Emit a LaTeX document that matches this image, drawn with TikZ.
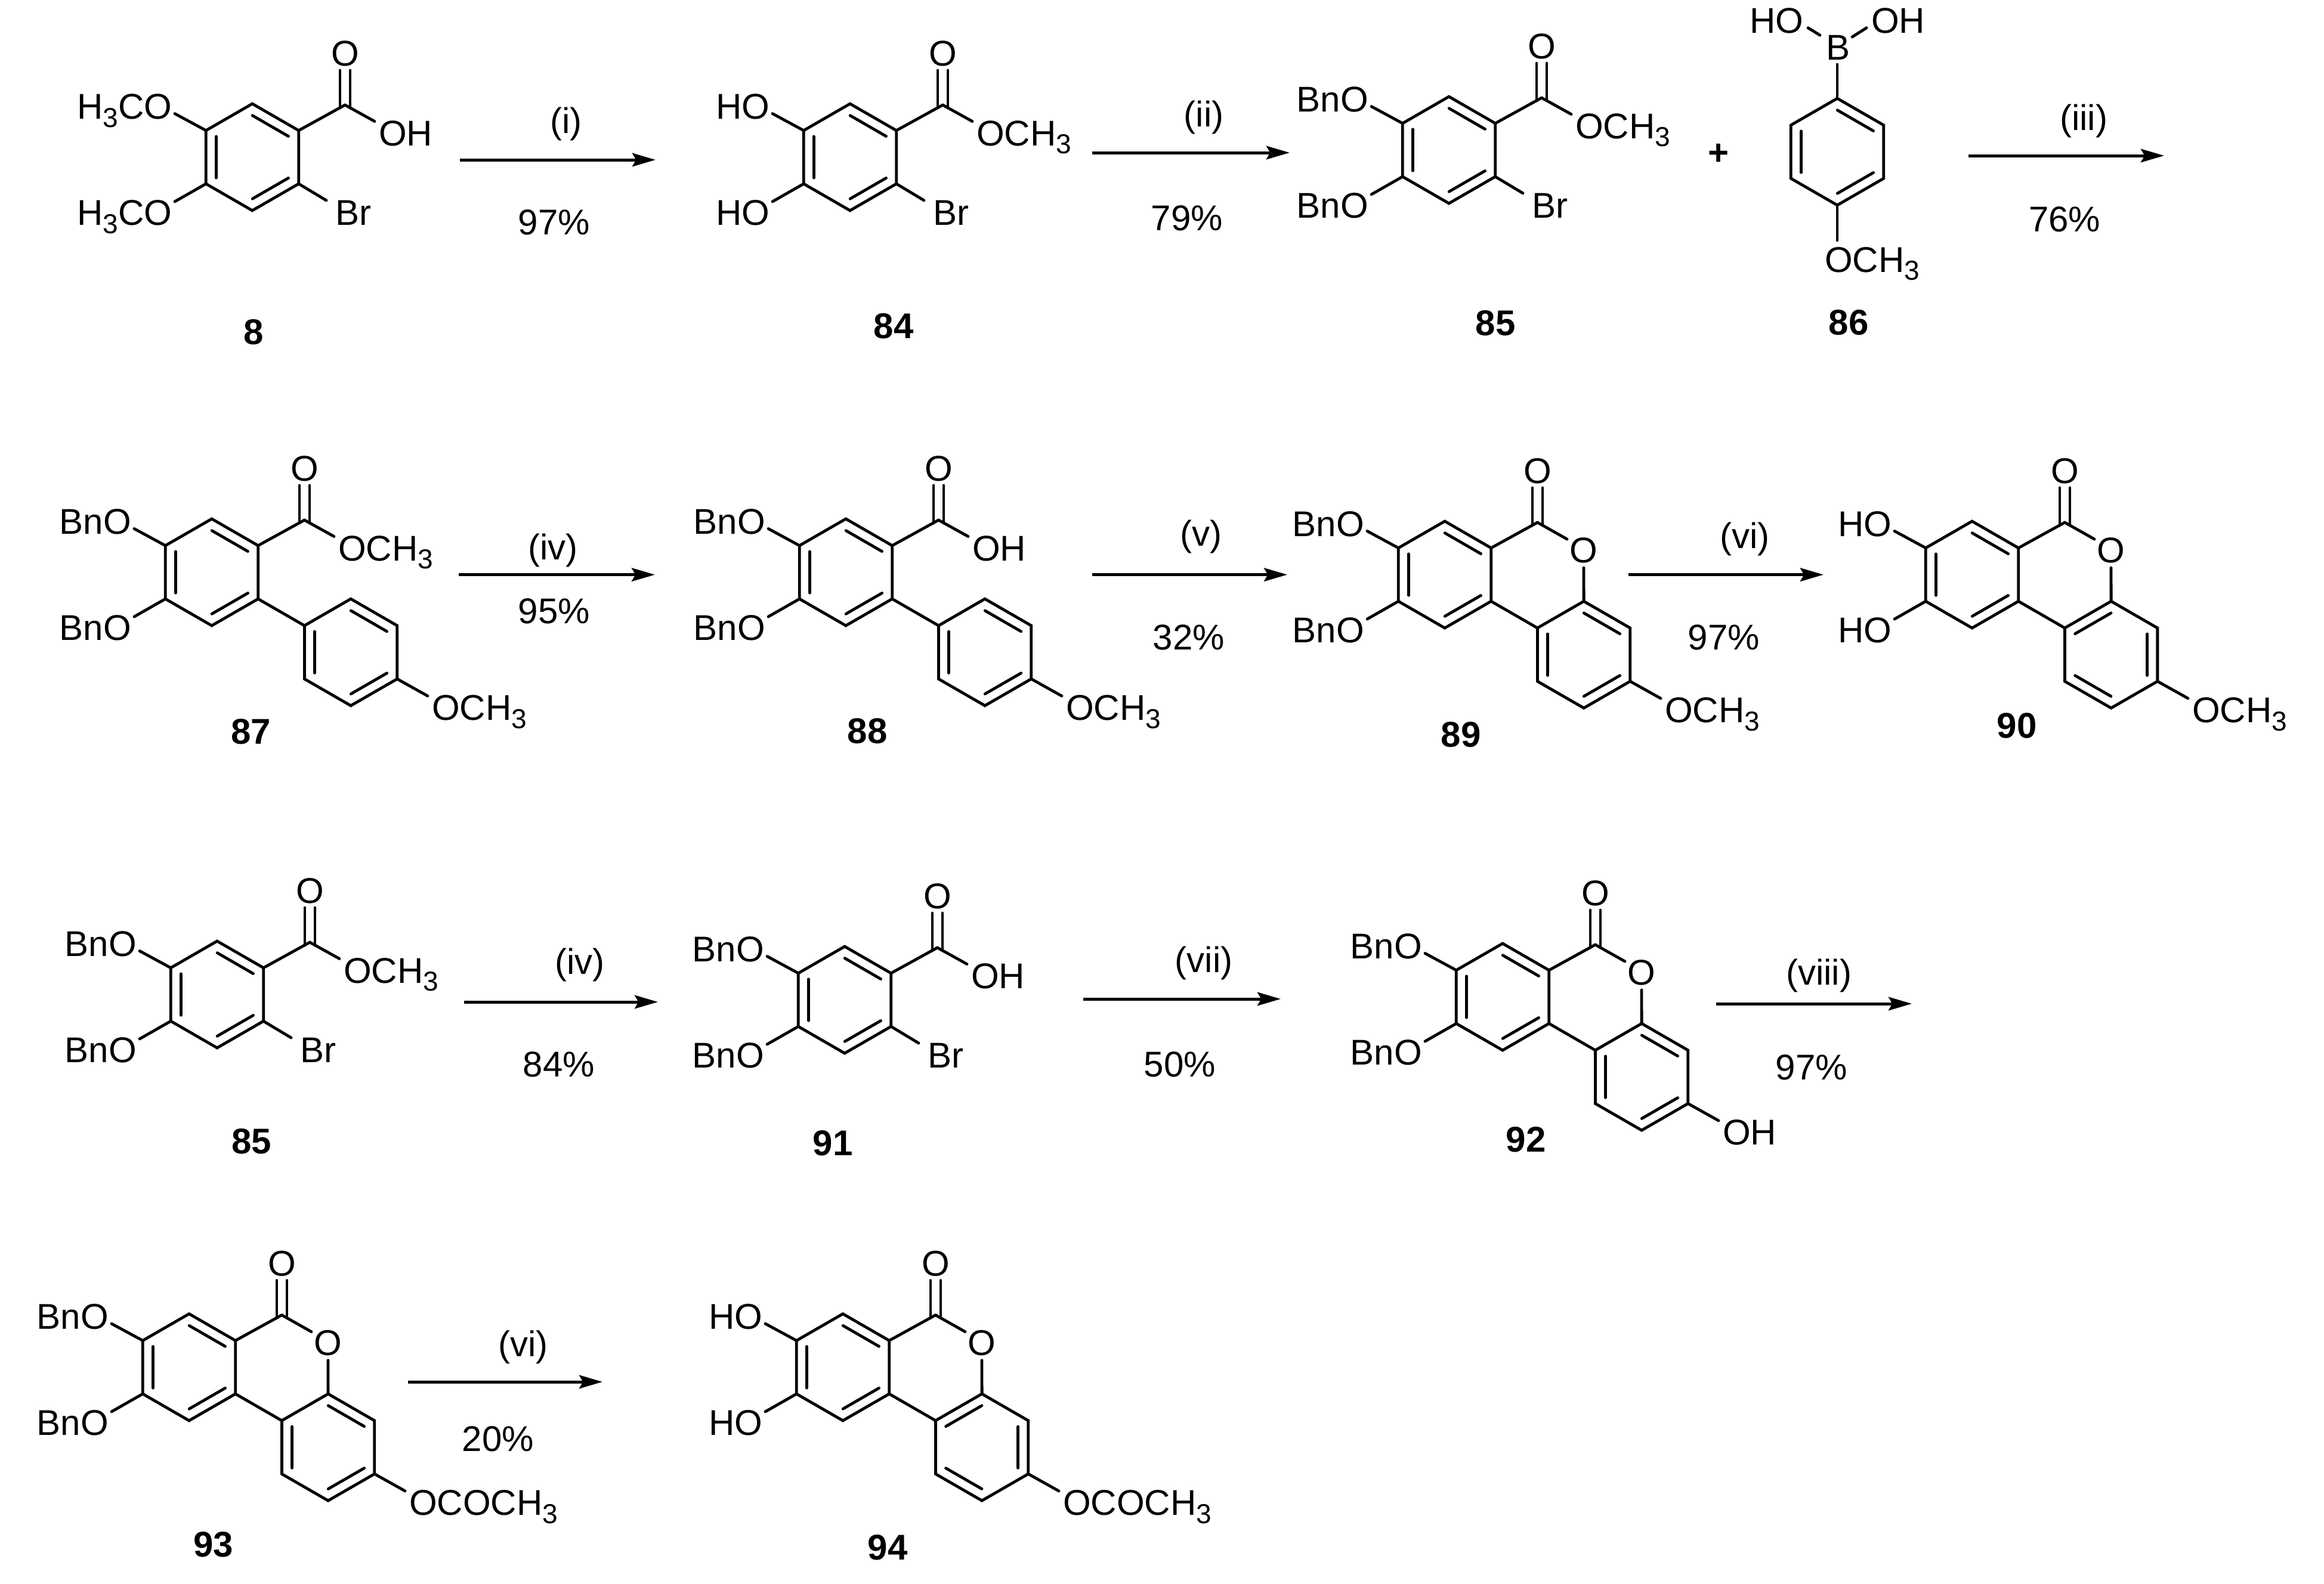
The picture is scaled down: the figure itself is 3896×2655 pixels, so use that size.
\documentclass[tikz,border=0pt]{standalone}
\usepackage{fontspec}
\setmainfont{Liberation Sans}
\usetikzlibrary{arrows.meta}
\newcommand{\subthree}{\raisebox{-3.4pt}{\fontsize{11.5}{11.5}\selectfont 3}}
\newcommand{\OCHthree}{OCH\subthree}
\newcommand{\OAc}{OCOCH\subthree}
\tikzset{
  bond/.style={line width=1.2pt,line join=miter,line cap=round},
  atom/.style={inner sep=0pt,outer sep=0pt,font=\fontsize{15}{15}\selectfont},
  cmpd/.style={inner sep=0pt,outer sep=0pt,anchor=base,font=\fontsize{15}{15}\selectfont\bfseries},
  rtext/.style={inner sep=0pt,outer sep=0pt,anchor=base,font=\fontsize{15}{15}\selectfont},
  rxn/.style={line width=1.25pt,-{Stealth[length=9.75pt,width=5.6pt,inset=1.6pt]}}
}
% hexagon, T = top vertex, with inner lines of pattern A or B
\newcommand{\hexcoords}[3]{%
  \begin{scope}[shift={(#2,#3)}]
  \coordinate (#1T) at (0,0);
  \coordinate (#1UR) at (77.7,44.8);
  \coordinate (#1LR) at (77.7,134.2);
  \coordinate (#1B) at (0,179);
  \coordinate (#1LL) at (-77.7,134.2);
  \coordinate (#1UL) at (-77.7,44.8);
  \draw[bond] (#1T) -- (#1UR) -- (#1LR) -- (#1B) -- (#1LL) -- (#1UL) -- cycle;
  \end{scope}}
\newcommand{\hexA}[3]{\hexcoords{#1}{#2}{#3}%
  \begin{scope}[shift={(#2,#3)}]
  \draw[bond] (-60.7,54.8) -- (-60.7,124.2);
  \draw[bond] (0.2,19.7) -- (60.5,54.5);
  \draw[bond] (60.5,124.5) -- (0.2,159.3);
  \end{scope}}
\newcommand{\hexB}[3]{\hexcoords{#1}{#2}{#3}%
  \begin{scope}[shift={(#2,#3)}]
  \draw[bond] (60.7,54.8) -- (60.7,124.2);
  \draw[bond] (-0.2,19.7) -- (-60.5,54.5);
  \draw[bond] (-60.5,124.5) -- (-0.2,159.3);
  \end{scope}}
% two oxygen substituents on the left of ring at T=(#2,#3)
\newcommand{\leftpair}[5]{%
  \begin{scope}[shift={(#2,#3)}]
  \node[atom,anchor=base east] (#1up) at (-135,25.7) {#4};
  \node[atom,anchor=base east] (#1lo) at (-135,203.6) {#5};
  \coordinate (#1upe) at (-130,16.5);
  \coordinate (#1loe) at (-130,164);
  \draw[bond] (#1UL) -- (#1upe);
  \draw[bond] (#1LL) -- (#1loe);
  \end{scope}}
% C=O above the ring
\newcommand{\carbonyl}[3]{%
  \begin{scope}[shift={(#2,#3)}]
  \coordinate (#1C) at (155.4,2);
  \node[atom,anchor=base] (#1O) at (155.4,-64) {O};
  \coordinate (#1Ol) at (147,-56);
  \coordinate (#1Or) at (164,-56);
  \coordinate (#1Cl) at (147,7);
  \coordinate (#1Cr) at (164,7);
  \draw[bond] (#1UR) -- (#1C);
  \draw[bond] (#1Ol) -- (#1Cl);
  \draw[bond] (#1Or) -- (#1Cr);
  \end{scope}}
\newcommand{\acidester}[4]{%
  \carbonyl{#1}{#2}{#3}%
  \begin{scope}[shift={(#2,#3)}]
  \node[atom,anchor=base west] (#1R) at (212,70) {#4};
  \coordinate (#1Re) at (205,29.5);
  \draw[bond] (#1C) -- (#1Re);
  \end{scope}}
\newcommand{\bromo}[3]{%
  \begin{scope}[shift={(#2,#3)}]
  \node[atom,anchor=base west] (#1Br) at (139,203.5) {Br};
  \coordinate (#1Bre) at (124,162);
  \draw[bond] (#1LR) -- (#1Bre);
  \end{scope}}
% second aryl ring (#4 = \hexA or \hexB) with a terminal group #5
\newcommand{\aryl}[5]{%
  #4{#12}{#2+233.1}{#3+134.2}%
  \begin{scope}[shift={(#2,#3)}]
  \node[atom,anchor=base west] (#1X) at (369,337.5) {#5};
  \coordinate (#1Xe) at (362,297);
  \draw[bond] (#1LR) -- (#12UL);
  \draw[bond] (#12LR) -- (#1Xe);
  \end{scope}}
\newcommand{\lactone}[3]{%
  \carbonyl{#1}{#2}{#3}%
  \begin{scope}[shift={(#2,#3)}]
  \node[atom,anchor=base] (#1Rg) at (233,69) {O};
  \coordinate (#1Rgs) at (205,30);
  \coordinate (#1Rgb) at (233,78);
  \draw[bond] (#1C) -- (#1Rgs);
  \draw[bond] (#1Rgb) -- (#12T);
  \end{scope}}
% reaction arrow: name, x1, x2, y
\newcommand{\rxnarrow}[4]{%
  \coordinate (#1s) at (#2,#4);
  \coordinate (#1e) at (#3,#4);
  \draw[rxn] (#1s) -- (#1e);}
\begin{document}
\begin{tikzpicture}[x=0.25pt,y=-0.25pt]
\useasboundingbox (0,0) rectangle (3896,2655);
% ---- 8
\hexA{a}{423}{174}
\leftpair{a}{423}{174}{H\subthree CO}{H\subthree CO}
\acidester{a}{423}{174}{OH}
\bromo{a}{423}{174}
\node[cmpd] (c8) at (425,577) {8};
% ---- 84
\hexA{b}{1425}{174}
\leftpair{b}{1425}{174}{HO}{HO}
\acidester{b}{1425}{174}{\OCHthree}
\bromo{b}{1425}{174}
\node[cmpd] (c84) at (1498,567) {84};
% ---- 85
\hexA{c}{2429}{162}
\leftpair{c}{2429}{162}{BnO}{BnO}
\acidester{c}{2429}{162}{\OCHthree}
\bromo{c}{2429}{162}
\node[cmpd] (c85) at (2507,562) {85};
\node[atom,font=\fontsize{15}{15}\selectfont\bfseries] (plus) at (2881,259) {+};
% ---- 86
\hexA{d}{3080}{165}
\node[atom,anchor=base] (dBo) at (3081,100) {B};
\node[atom,anchor=base east] (dHO) at (3023,55.5) {HO};
\node[atom,anchor=base west] (dOH) at (3137,55.5) {OH};
\node[atom,anchor=base west] (dM) at (3059,456) {\OCHthree};
\coordinate (dBb) at (3080,108);
\coordinate (dBl) at (3051,59);
\coordinate (dBr) at (3105,62);
\coordinate (dHe) at (3031,46.7);
\coordinate (dOe) at (3129,46.7);
\coordinate (dMe) at (3080,403);
\draw[bond] (dT) -- (dBb);
\draw[bond] (dBl) -- (dHe);
\draw[bond] (dBr) -- (dOe);
\draw[bond] (dB) -- (dMe);
\node[cmpd] (c86) at (3099,561) {86};
% ---- 87
\hexA{e}{355}{870}
\leftpair{e}{355}{870}{BnO}{BnO}
\acidester{e}{355}{870}{\OCHthree}
\aryl{e}{355}{870}{\hexA}{\OCHthree}
\node[cmpd] (c87) at (421,1247) {87};
% ---- 88
\hexA{f}{1418}{870}
\leftpair{f}{1418}{870}{BnO}{BnO}
\acidester{f}{1418}{870}{OH}
\aryl{f}{1418}{870}{\hexA}{\OCHthree}
\node[cmpd] (c88) at (1454,1246) {88};
% ---- 89
\hexA{g}{2422}{874}
\leftpair{g}{2422}{874}{BnO}{BnO}
\aryl{g}{2422}{874}{\hexA}{\OCHthree}
\lactone{g}{2422}{874}
\node[cmpd] (c89) at (2449,1252.6) {89};
% ---- 90
\hexA{h}{3306}{874}
\leftpair{h}{3306}{874}{HO}{HO}
\aryl{h}{3306}{874}{\hexB}{\OCHthree}
\lactone{h}{3306}{874}
\node[cmpd] (c90) at (3381,1237) {90};
% ---- 85 (again)
\hexA{i}{364}{1578}
\leftpair{i}{364}{1578}{BnO}{BnO}
\acidester{i}{364}{1578}{\OCHthree}
\bromo{i}{364}{1578}
\node[cmpd] (c85b) at (422,1934) {85};
% ---- 91
\hexA{j}{1416}{1587}
\leftpair{j}{1416}{1587}{BnO}{BnO}
\acidester{j}{1416}{1587}{OH}
\bromo{j}{1416}{1587}
\node[cmpd] (c91) at (1396,1937) {91};
% ---- 92
\hexA{k}{2519}{1582}
\leftpair{k}{2519}{1582}{BnO}{BnO}
\aryl{k}{2519}{1582}{\hexA}{OH}
\lactone{k}{2519}{1582}
\node[cmpd] (c92) at (2558,1931) {92};
% ---- 93
\hexA{l}{317}{2203}
\leftpair{l}{317}{2203}{BnO}{BnO}
\aryl{l}{317}{2203}{\hexA}{\OAc}
\lactone{l}{317}{2203}
\node[cmpd] (c93) at (358,2610.6) {93};
% ---- 94
\hexA{m}{1413}{2203}
\leftpair{m}{1413}{2203}{HO}{HO}
\aryl{m}{1413}{2203}{\hexB}{\OAc}
\lactone{m}{1413}{2203}
\node[cmpd] (c94) at (1488,2615) {94};
% ---- arrows and their labels
\rxnarrow{ra}{771}{1099}{268}
\node[rtext] (ta1) at (949,223) {(i)};
\node[rtext] (ta2) at (929,393) {97\%};
\rxnarrow{rb}{1831}{2162}{256}
\node[rtext] (tb1) at (2018,212) {(ii)};
\node[rtext] (tb2) at (1990,386) {79\%};
\rxnarrow{rc}{3300}{3628}{261}
\node[rtext] (tc1) at (3493,218) {(iii)};
\node[rtext] (tc2) at (3461,388) {76\%};
\rxnarrow{rd}{769}{1098}{963.6}
\node[rtext] (td1) at (927,938) {(iv)};
\node[rtext] (td2) at (929,1045) {95\%};
\rxnarrow{re}{1831}{2158}{963.6}
\node[rtext] (te1) at (2013,915) {(v)};
\node[rtext] (te2) at (1993,1089) {32\%};
\rxnarrow{rf}{2730}{3057}{963.6}
\node[rtext] (tf1) at (2925,919) {(vi)};
\node[rtext] (tf2) at (2890,1089) {97\%};
\rxnarrow{rg}{778}{1103}{1680}
\node[rtext] (tg1) at (972,1633) {(iv)};
\node[rtext] (tg2) at (937,1805) {84\%};
\rxnarrow{rh}{1816}{2147}{1675}
\node[rtext] (th1) at (2018,1630) {(vii)};
\node[rtext] (th2) at (1978,1805) {50\%};
\rxnarrow{ri}{2877}{3205}{1683}
\node[rtext] (ti1) at (3049,1651) {(viii)};
\node[rtext] (ti2) at (3037,1810) {97\%};
\rxnarrow{rj}{684}{1010}{2317}
\node[rtext] (tj1) at (877,2274) {(vi)};
\node[rtext] (tj2) at (835,2433) {20\%};
\end{tikzpicture}
\end{document}
